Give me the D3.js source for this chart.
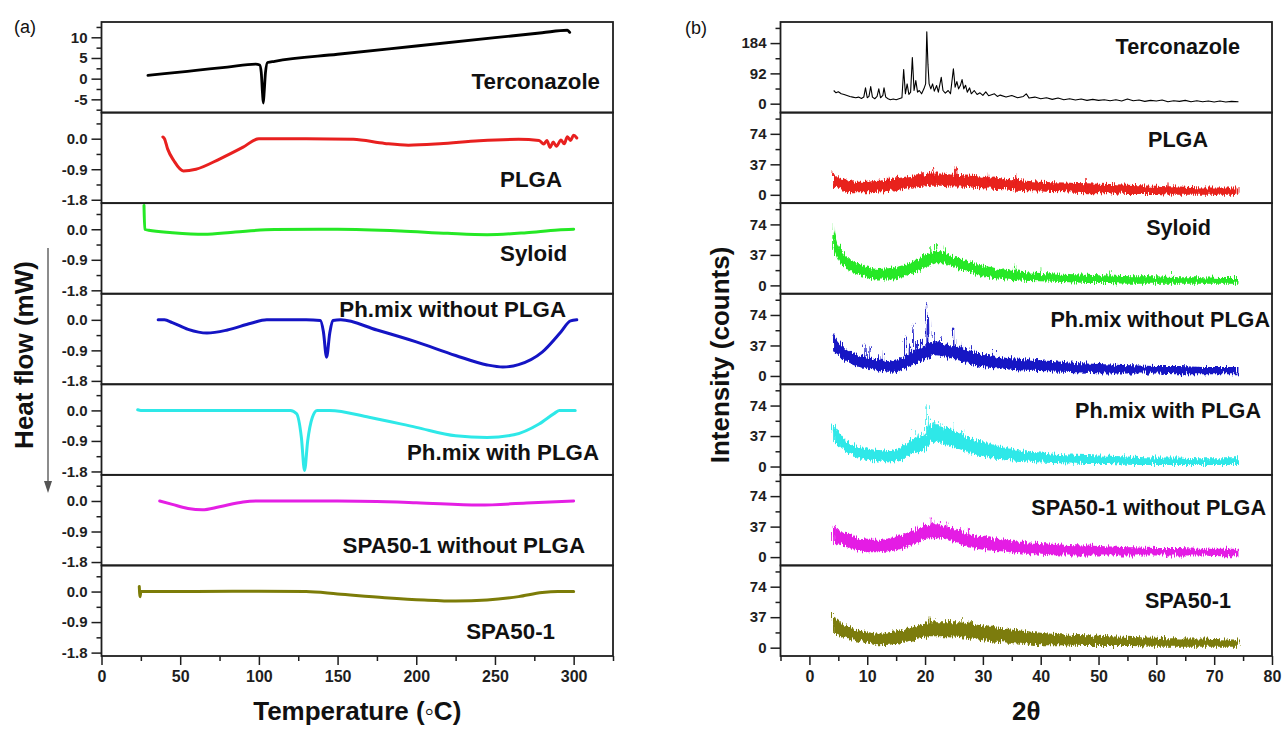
<!DOCTYPE html>
<html><head><meta charset="utf-8">
<script src="https://cdn.jsdelivr.net/npm/d3@7"></script>
<style>
html,body{margin:0;padding:0;background:#fff;}
svg{display:block;font-family:"Liberation Sans",Arial,Helvetica,sans-serif;}
</style></head><body>
<svg id="chart" width="1283" height="729"></svg>
<script>
// ================= DATA =================
const sampleLabels = ["Terconazole","PLGA","Syloid","Ph.mix without PLGA","Ph.mix with PLGA","SPA50-1 without PLGA","SPA50-1"];
const seriesColors = ["#000000","#e8201f","#25e825","#1414c4","#2ee8e8","#e41fe4","#7c7c08"];

// ---- (a) DSC : [temperature °C, heat flow mW] ----
const dscTerconazole = [[29.5,0.8],[40,1.2],[60,2.0],[80,2.8],[98,3.5],[100.5,3.3],[101.5,1.5],[102.3,-3.5],[102.8,-5.9],[103.4,-3.0],[104.2,1.5],[105.5,3.9],[110,4.2],[150,5.9],[200,7.9],[250,9.9],[280,11.1],[296,11.7],[297.5,11.2]];
const dscPLGA = [[39,0.05],[40,0],[42,-0.3],[46,-0.65],[52,-0.95],[60,-0.9],[75,-0.6],[90,-0.25],[100,0],[130,0],[160,-0.02],[180,-0.14],[195,-0.19],[215,-0.15],[240,-0.06],[265,-0.02],[278,-0.05],[281,-0.16],[283,-0.05],[285,-0.26],[287,-0.1],[289,-0.22],[292,-0.04],[294,-0.15],[296,0.06],[298,-0.05],[300,0.1],[302,0.02]];
const dscSyloid = [[27,0.7],[27.5,0.0],[30,-0.03],[45,-0.1],[65,-0.15],[85,-0.08],[110,-0.01],[150,0],[190,-0.05],[220,-0.12],[245,-0.16],[270,-0.1],[290,-0.02],[300,0.0]];
const dscPhMixNoPLGA = [[36,0],[40,0],[45,-0.08],[55,-0.28],[67,-0.39],[80,-0.3],[95,-0.1],[105,0],[130,0],[139,-0.02],[141,-0.35],[143,-1.1],[145,-0.4],[147,-0.02],[152,0.0],[175,-0.3],[200,-0.65],[225,-1.05],[245,-1.33],[255,-1.39],[265,-1.32],[280,-0.95],[292,-0.35],[298,-0.03],[302,0.0]];
const dscPhMixPLGA = [[23,0.02],[25,0],[60,0],[100,0],[120,0],[124,-0.1],[127,-0.8],[129,-1.77],[131,-0.9],[134,-0.2],[137,0],[145,0],[170,-0.2],[200,-0.5],[225,-0.75],[245,-0.8],[262,-0.72],[278,-0.4],[288,-0.08],[291,0],[301,0]];
const dscSPANoPLGA = [[37,0],[45,-0.1],[55,-0.22],[64,-0.26],[75,-0.17],[90,-0.03],[100,0],[150,0],[200,-0.05],[240,-0.12],[270,-0.06],[300,0]];
const dscSPA = [[24,0.15],[24.5,-0.15],[25,0],[60,0],[100,0.01],[130,0],[150,-0.07],[180,-0.18],[205,-0.25],[225,-0.28],[245,-0.25],[265,-0.15],[280,-0.03],[290,0],[300,0]];
const dscSeries = [dscTerconazole,dscPLGA,dscSyloid,dscPhMixNoPLGA,dscPhMixPLGA,dscSPANoPLGA,dscSPA];

const tempTicks = [0,50,100,150,200,250,300];
const tempMinorTicks = [25,75,125,175,225,275,325];
const dscTerTicks = [-5,0,5,10];
const dscTerMinorTicks = [-7.5,-2.5,2.5,7.5,12.5];
const dscTicks = [-1.8,-0.9,0.0];
const dscMinorTicks = [-1.35,-0.45,0.45];

// ---- (b) XRD : 2θ vs intensity ----
const xrdTerconazole = [[4.2,40],[4.6,33],[5,36],[5.5,30],[6,28],[6.5,25],[7,22],[7.5,20],[8,18],[8.5,20],[9,16],[9.4,20],[9.7,48],[10,18],[10.3,22],[10.6,52],[10.9,20],[11.3,15],[11.7,22],[12,45],[12.3,18],[12.7,25],[12.9,48],[13.2,20],[13.6,15],[14,12],[14.5,14],[15,12],[15.5,15],[16,18],[16.3,104],[16.6,30],[16.9,60],[17.2,28],[17.5,35],[17.8,140],[18.1,40],[18.4,70],[18.7,35],[19,40],[19.4,30],[19.8,45],[20.1,60],[20.3,218],[20.5,120],[20.7,60],[21,45],[21.3,60],[21.6,38],[22,55],[22.3,35],[22.8,80],[23.1,40],[23.5,32],[24,40],[24.4,30],[24.9,106],[25.2,50],[25.5,67],[25.8,45],[26.1,55],[26.4,73],[26.7,45],[27,56],[27.3,35],[27.7,48],[28,30],[28.5,40],[29,28],[29.5,33],[30,25],[30.5,36],[31,24],[32,30],[32.5,22],[33,26],[34,20],[35,25],[36,18],[37,22],[37.5,30],[38,17],[39,20],[40,15],[41,18],[42,13],[43,17],[44,12],[45,15],[46,11],[47,14],[48,10],[49,13],[50,10],[51,12],[52,9],[53,12],[54,8],[55,14],[56,9],[57,11],[58,7],[59,10],[60,8],[61,11],[62,6],[63,9],[64,7],[65,10],[66,6],[67,9],[68,6],[69,8],[70,5],[71,8],[72,5],[73,7],[74.2,6]];

const thetaGrid = [4.1,5,6,7,8,10,12,14,16,18,20,21,22,23,24,26,28,30,33,36,40,44,48,52,56,60,64,68,72,74.2];
const plgaUpper   = [27,22,19,17,16,16,17,19,21,23,25,26,26,26,25,24,23,22,20,18,16,15,14,13,12,11,10,9,9,9];
const plgaLower   = [10,8,5,3,3,3,4,5,7,9,10,11,11,11,10,10,9,8,7,5,4,3,2,2,1,1,0,0,0,0];
const syloidUpper = [68,48,38,32,28,23,20,21,24,30,37,40,42,41,38,33,28,24,20,17,15,14,13,12,11,11,10,10,9,9];
const syloidLower = [45,30,23,18,14,9,7,7,10,15,22,25,27,27,25,20,15,11,8,6,5,4,3,3,2,2,2,2,2,2];
const phNoUpper   = [50,42,34,30,27,22,20,18,22,30,36,40,42,40,38,35,30,27,23,21,19,17,15,14,13,12,12,11,11,11];
const phNoLower   = [30,25,19,15,12,9,7,5,8,14,20,24,25,24,22,19,14,11,9,7,6,5,4,3,3,3,2,2,2,2];
const phWithUpper = [50,42,34,29,25,22,20,19,24,34,38,50,50,48,46,40,34,30,24,20,17,15,14,13,12,11,11,10,10,10];
const phWithLower = [30,26,20,15,12,8,6,5,9,16,20,30,30,28,26,21,16,12,9,7,5,4,3,3,2,2,2,2,2,2];
const spaNoUpper  = [36,33,30,28,25,21,21,23,27,33,38,40,40,39,37,32,27,25,22,19,17,15,14,13,12,11,11,10,10,10];
const spaNoLower  = [16,15,13,11,9,6,6,7,10,15,21,23,23,22,21,16,11,9,7,5,3,2,2,2,2,2,2,2,1,1];
const spaUpper    = [38,33,28,25,22,19,17,19,21,25,30,31,31,31,31,31,29,27,24,21,18,16,15,14,13,12,11,11,10,10];
const spaLower    = [18,15,12,10,8,5,3,4,6,9,13,14,14,14,14,13,11,9,7,5,3,3,2,2,2,1,1,1,1,1];

const plgaSpikes   = [[4.3,30],[13.5,22],[19.5,30],[21.5,32],[25.4,33],[31,27],[35.5,24],[48,18],[62,15]];
const syloidSpikes = [[4.15,72],[5.3,50],[21,45],[22,51],[23.5,46],[35.5,27],[40,22],[52,18],[63,15]];
const phNoSpikes   = [[4.3,52],[9.6,38],[10.5,36],[12,25],[12.8,30],[16.4,50],[17.3,38],[17.9,62],[18.5,42],[19.2,45],[20.4,88],[20.6,70],[21.4,52],[22.3,46],[22.8,48],[24.9,56],[26.3,40],[28,36],[32,30]];
const phWithSpikes = [[4.2,52],[17.9,44],[18.8,40],[19.6,42],[20.35,73],[20.8,58],[21.6,55],[22.4,54],[23.3,52],[24.9,52],[26.5,44]];
const spaNoSpikes  = [[4.3,39],[19,36],[20.9,48],[21.5,44],[22.5,45],[24,43],[27.5,35]];
const spaSpikes    = [[4.2,42],[20.9,38],[22,34],[24,34],[26.4,36],[28,32]];

const xrdBands = [null,
  {upper:plgaUpper, lower:plgaLower, spikes:plgaSpikes},
  {upper:syloidUpper, lower:syloidLower, spikes:syloidSpikes},
  {upper:phNoUpper, lower:phNoLower, spikes:phNoSpikes},
  {upper:phWithUpper, lower:phWithLower, spikes:phWithSpikes},
  {upper:spaNoUpper, lower:spaNoLower, spikes:spaNoSpikes},
  {upper:spaUpper, lower:spaLower, spikes:spaSpikes}];

const thetaTicks = [0,10,20,30,40,50,60,70,80];
const thetaMinorTicks = [-5,5,15,25,35,45,55,65,75];
const xrdTerTicks = [0,92,184];
const xrdTerMinorTicks = [46,138,230];
const xrdTicks = [0,37,74];
const xrdMinorTicks = [18.5,55.5,92.5];

// ================= LAYOUT =================
const svg = d3.select("#chart");
const PT = 22, PB = 656, NP = 7, PH = (PB - PT) / NP;
const L = {x0:101.5, x1:613};
const R = {x0:780.5, x1:1272};
const INK = "#1e1e1e";
const FONT = '"Liberation Sans",Arial,Helvetica,sans-serif';

// texture filter for the noisy XRD traces (visual roughening only)
const defs = svg.append("defs");
const flt = defs.append("filter").attr("id","rough").attr("x","-5%").attr("y","-40%").attr("width","110%").attr("height","180%");
flt.append("feTurbulence").attr("type","fractalNoise").attr("baseFrequency","0.9 0.06").attr("numOctaves",2).attr("seed",3).attr("result","n");
flt.append("feDisplacementMap").attr("in","SourceGraphic").attr("in2","n").attr("scale",9)
  .attr("xChannelSelector","A").attr("yChannelSelector","R");

const xT = d3.scaleLinear().domain([0,325]).range([L.x0, L.x1]);
const xQ = d3.scaleLinear().domain([-5,80]).range([R.x0, R.x1]);
const panelY = (i, dom) => d3.scaleLinear().domain(dom).range([PT + (i+1)*PH, PT + i*PH]);

const leftLabelPos  = [[600,89],[562,187],[567,261],[566,316.5],[599,460],[585,553],[555,639]];
const rightLabelPos = [[1240,54],[1208,146.5],[1211,235],[1270,327],[1261,417.5],[1266,515],[1231,608]];

function styleAxis(g, fs){
  g.select(".domain").remove();
  g.selectAll(".tick line").attr("stroke", INK).attr("stroke-width", 1.5);
  g.selectAll(".tick text").attr("fill", INK).style("font-family", FONT)
    .style("font-size", fs + "px").style("font-weight", "bold");
}
function yAxis(x0, y, major, minor, fmt){
  svg.append("g").attr("transform", `translate(${x0},0)`)
    .call(d3.axisLeft(y).tickValues(minor).tickSize(5).tickFormat(""))
    .call(g => styleAxis(g, 15));
  svg.append("g").attr("transform", `translate(${x0},0)`)
    .call(d3.axisLeft(y).tickValues(major).tickSize(10).tickPadding(4).tickFormat(fmt))
    .call(g => styleAxis(g, 15));
}
function xAxis(x, major, minor){
  svg.append("g").attr("transform", `translate(0,${PB})`)
    .call(d3.axisBottom(x).tickValues(minor).tickSize(5).tickFormat(""))
    .call(g => styleAxis(g, 16));
  svg.append("g").attr("transform", `translate(0,${PB})`)
    .call(d3.axisBottom(x).tickValues(major).tickSize(9).tickPadding(6).tickFormat(d => String(d)))
    .call(g => styleAxis(g, 16));
}
const fmt1 = d => (Math.abs(d) < 1e-9 ? 0 : d).toFixed(1);
const fmt0 = d => String(d);

// ----- panel (a) DSC -----
const dscLine = (x, y) => d3.line().x(d => x(d[0])).y(d => y(d[1])).curve(d3.curveMonotoneX);
for (let i = 0; i < NP; i++){
  const dom = i === 0 ? [-8.2, 13.7] : [-1.9, 0.77];
  const y = panelY(i, dom);
  svg.append("path").datum(dscSeries[i]).attr("d", dscLine(xT, y))
    .attr("fill","none").attr("stroke", seriesColors[i])
    .attr("stroke-width", i === 0 ? 2.8 : 3).attr("stroke-linejoin","round").attr("stroke-linecap","round");
  if (i === 0) yAxis(L.x0, y, dscTerTicks, dscTerMinorTicks, fmt0);
  else yAxis(L.x0, y, dscTicks, dscMinorTicks, fmt1);
  svg.append("text").attr("x", leftLabelPos[i][0]).attr("y", leftLabelPos[i][1])
    .attr("text-anchor","end").style("font-family",FONT).style("font-size","22.3px")
    .style("font-weight","bold").attr("fill","#111").text(sampleLabels[i]);
}
for (let i = 0; i < NP; i++){
  svg.append("rect").attr("x", L.x0).attr("y", PT + i*PH).attr("width", L.x1 - L.x0).attr("height", PH)
    .attr("fill","none").attr("stroke", INK).attr("stroke-width", 1.8);
}
xAxis(xT, tempTicks, tempMinorTicks);

// ----- panel (b) XRD -----
function bandAt(arr, t){
  for (let k = 0; k < thetaGrid.length - 1; k++){
    if (t >= thetaGrid[k] && t <= thetaGrid[k+1]){
      const f = (t - thetaGrid[k]) / (thetaGrid[k+1] - thetaGrid[k]);
      return arr[k] + f * (arr[k+1] - arr[k]);
    }
  }
  return arr[0];
}
for (let i = 0; i < NP; i++){
  const dom = i === 0 ? [-27, 248] : [-10.1, 99.8];
  const y = panelY(i, dom);
  if (i === 0){
    svg.append("path").datum(xrdTerconazole)
      .attr("d", d3.line().x(d => xQ(d[0])).y(d => y(d[1])))
      .attr("fill","none").attr("stroke","#000").attr("stroke-width",1.1).attr("stroke-linejoin","round");
    yAxis(R.x0, y, xrdTerTicks, xrdTerMinorTicks, fmt0);
  } else {
    const b = xrdBands[i];
    const g = svg.append("g").attr("filter","url(#rough)");
    const area = d3.area().x((d, k) => xQ(thetaGrid[k]))
      .y0((d, k) => y(b.lower[k])).y1((d, k) => y(b.upper[k])).curve(d3.curveMonotoneX);
    g.append("path").datum(b.upper).attr("d", area)
      .attr("fill", seriesColors[i]).attr("stroke", "none");
    g.append("g").selectAll("path").data(b.spikes).join("path")
      .attr("d", d => {
        const base = (bandAt(b.upper, d[0]) + bandAt(b.lower, d[0])) / 2;
        return `M${xQ(d[0]-0.12)},${y(base)}L${xQ(d[0])},${y(d[1])}L${xQ(d[0]+0.12)},${y(base)}`;
      })
      .attr("fill", seriesColors[i]).attr("stroke", seriesColors[i]).attr("stroke-width", 0.8);
    yAxis(R.x0, y, xrdTicks, xrdMinorTicks, fmt0);
  }
  svg.append("text").attr("x", rightLabelPos[i][0]).attr("y", rightLabelPos[i][1])
    .attr("text-anchor","end").style("font-family",FONT).style("font-size","21.6px")
    .style("font-weight","bold").attr("fill","#111").text(sampleLabels[i]);
}
for (let i = 0; i < NP; i++){
  svg.append("rect").attr("x", R.x0).attr("y", PT + i*PH).attr("width", R.x1 - R.x0).attr("height", PH)
    .attr("fill","none").attr("stroke", INK).attr("stroke-width", 1.8);
}
xAxis(xQ, thetaTicks, thetaMinorTicks);

// ----- titles -----
const txt = (x, y, s, size, weight, anchor, rot) => {
  const t = svg.append("text").attr("x", x).attr("y", y).attr("text-anchor", anchor)
    .style("font-family", FONT).style("font-size", size + "px").style("font-weight", weight)
    .attr("fill", "#111").text(s);
  if (rot) t.attr("transform", `rotate(-90,${x},${y})`);
  return t;
};
txt(14, 33, "(a)", 18, "normal", "start");
txt(685, 34, "(b)", 18, "normal", "start");
txt((L.x0 + L.x1) / 2, 720, "Temperature (\u25E6C)", 26, "bold", "middle");
txt((R.x0 + R.x1) / 2, 720, "2\u03B8", 26, "bold", "middle");
txt(33, 355, "Heat flow (mW)", 26, "bold", "middle", true);
txt(729, 355, "Intensity (counts)", 26, "bold", "middle", true);

// heat-flow direction arrow
svg.append("line").attr("x1",48).attr("x2",48).attr("y1",248).attr("y2",484)
  .attr("stroke","#666").attr("stroke-width",1.5);
svg.append("path").attr("d","M44,481L52,481L48,493Z").attr("fill","#555");
</script>
</body></html>
